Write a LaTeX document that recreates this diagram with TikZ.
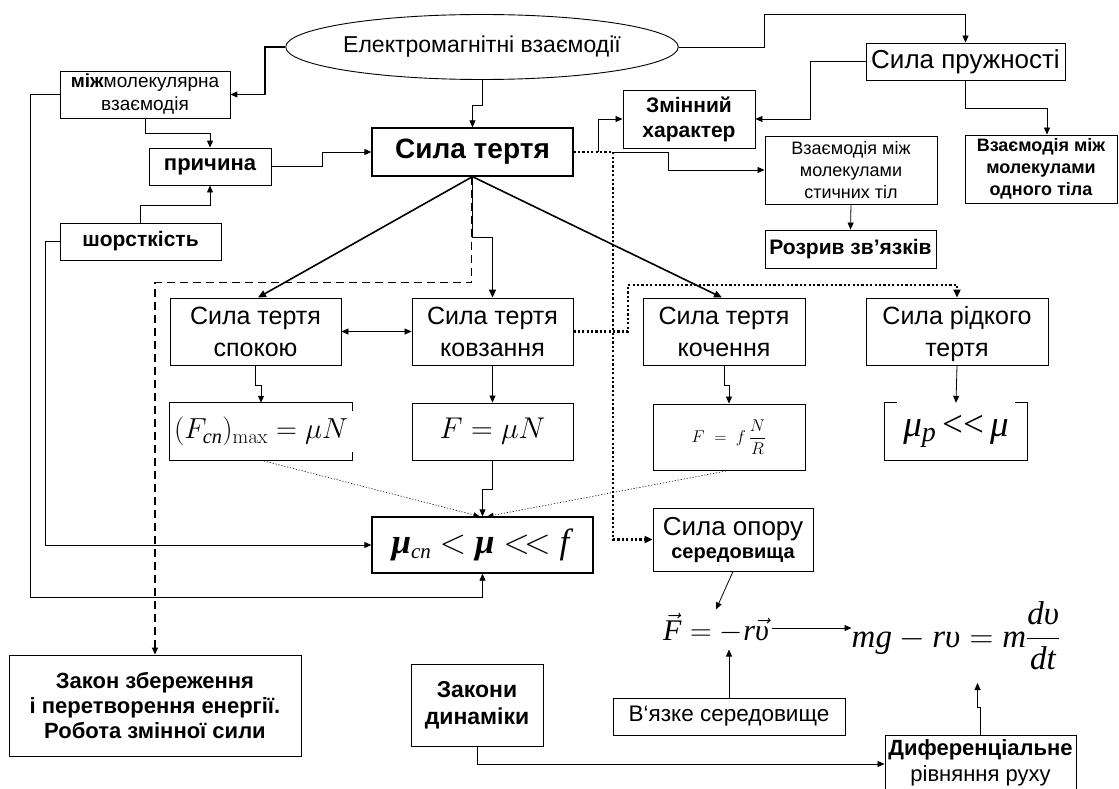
\RequirePackage{fix-cm}
\documentclass[tikz,border=0pt]{standalone}
\usepackage{amsmath}
\usepackage[no-math]{fontspec}
\setmainfont{Liberation Sans}
\newfontfamily\tnr{Liberation Serif}
\usetikzlibrary{arrows.meta,shapes.geometric,calc}
\newcommand\fs[2]{\fontsize{#1}{#2}\selectfont}
\newcommand\ti[1]{\text{\textit{#1}}}

\begin{document}
\begin{tikzpicture}[x=1pt,y=-1pt,
  box/.style={draw, line width=0.9pt, align=center, inner sep=0pt},
  plain/.style={align=center, inner sep=0pt},
  link/.style={line width=0.8pt, -{Triangle[length=7pt,width=6pt]}},
  heavylink/.style={line width=1.6pt, -{Triangle[length=8pt,width=7pt]}},
  dashlink/.style={line width=1.6pt, dash pattern=on 8pt off 5pt, -{Triangle[length=7pt,width=6pt]}},
  dotlink/.style={line width=2.2pt, dash pattern=on 2.2pt off 2.2pt, -{Triangle[length=8pt,width=7pt]}},
  faintlink/.style={line width=0.6pt, dash pattern=on 1.2pt off 1.8pt, -{Triangle[length=6pt,width=5pt]}}]
\useasboundingbox (0,0) rectangle (1119,789);

% --- top level ---
\node[draw, ellipse, line width=0.9pt, inner sep=0pt, minimum width=363pt, minimum height=65pt, font=\fs{23}{26}] (em) at (482,47) {Електромагнітні взаємодії};
\node[box, minimum width=170pt, minimum height=47pt, font=\fs{19}{23}] (mol) at (145,94.5) {\textbf{між}молекулярна\\взаємодія};
\node[box, minimum width=122pt, minimum height=37pt, font=\bfseries\fs{22}{26}] (prich) at (210,166.5) {причина};
\node[box, minimum width=161pt, minimum height=37pt, font=\bfseries\fs{21}{25}] (shor) at (140.5,241.5) {шорсткість};
\node[box, line width=1.3pt, minimum width=201pt, minimum height=48pt, font=\bfseries\fs{28}{32}] (sila) at (472.5,152) {Сила тертя};
\node[box, minimum width=132pt, minimum height=58pt, font=\bfseries\fs{21}{25}] (zmin) at (689,119) {Змінний\\характер};
\node[box, minimum width=199pt, minimum height=37pt, font=\fs{26}{30}] (pruzh) at (965.5,61.5) {Сила пружності};
\node[box, minimum width=172pt, minimum height=68pt, font=\fs{18}{22}] (styk) at (851,170) {Взаємодія між\\молекулами\\стичних тіл};
\node[box, minimum width=152pt, minimum height=68pt, font=\bfseries\fs{18}{22}] (odn) at (1041,169) {Взаємодія між\\молекулами\\одного тіла};
\node[box, minimum width=171pt, minimum height=38pt, font=\bfseries\fs{21}{25}] (rozr) at (850.5,249) {Розрив зв'язків};

% --- kinds of friction ---
\node[box, minimum width=171pt, minimum height=67pt, font=\fs{25}{32}] (spok) at (255.5,331.5) {Сила тертя\\спокою};
\node[box, minimum width=161pt, minimum height=67pt, font=\fs{25}{32}] (kovz) at (492.5,331.5) {Сила тертя\\ковзання};
\node[box, minimum width=162pt, minimum height=67pt, font=\fs{25}{32}] (koch) at (724,331.5) {Сила тертя\\кочення};
\node[box, minimum width=182pt, minimum height=67pt, text depth=1pt, font=\fs{25}{32}] (ridk) at (957,331.5) {Сила рідкого\\тертя};

% --- formulas ---
\node[plain, minimum width=182pt, minimum height=57pt, font=\fs{29}{32}] (fsp) at (261,431.5) {$(F_{\text{\tnr\itshape сп}})_{\max} = \mu N$};
\draw[line width=0.9pt] ($(fsp.north east)+(0,8)$) -- (fsp.north east) -- (fsp.north west) -- (fsp.south west) -- (fsp.south east) -- ++(0,-8);
\node[box, minimum width=161pt, minimum height=57pt, font=\fs{30}{32}] (fmu) at (492.5,431.5) {$F = \mu N$};
\node[box, minimum width=152pt, minimum height=66pt, font=\fs{17}{19}] (ffr) at (729,437) {$F\;=\;f\,\dfrac{N}{R}$};
\node[plain, minimum width=142pt, minimum height=57pt, font=\tnr\fs{37}{40}] (mup) at (956,431.5) {\textit{μ}\raisebox{-0.3ex}{\fs{28}{28}\textit{p}}\,<<\,\textit{μ}};
\draw[line width=0.9pt] ($(mup.north west)+(12,0)$) -| (mup.south west) -- (mup.south east) |- ($(mup.north east)+(-12,0)$);
\node[box, line width=1.3pt, minimum width=221pt, minimum height=56pt, font=\tnr\fs{35}{38}] (ineq) at (482.5,545) {\textbf{\textit{μ}}\raisebox{-0.3ex}{\fs{21}{21}\textit{сп}} $<$ \textbf{\textit{μ}} $<\!<$ \textit{f}};
\node[box, minimum width=160pt, minimum height=63pt, font=\fs{26}{27}] (opor) at (733,539.5) {Сила опору\\[-4pt]{\bfseries\fs{20}{22}середовища}};

% --- lower part ---
\node[box, minimum width=292pt, minimum height=101pt, font=\bfseries\fs{22}{25}] (zakon) at (155,705.5) {Закон збереження\\і перетворення енергії.\\Робота змінної сили};
\node[box, minimum width=132pt, minimum height=82pt, font=\bfseries\fs{23}{27}] (dyn) at (477,705) {Закони\\динаміки};
\node[plain, inner sep=3pt, font=\tnr\fs{30}{32}] (fvec) at (716,628) {$\vec{\ti{F}} = -\ti{r}\vec{\ti{υ}}$};
\node[plain, font=\tnr\fs{33}{36}] (fmg) at (956,636) {$\ti{mg}-\ti{rυ}=\ti{m}\dfrac{\ti{dυ}}{\ti{dt}}$};
\node[box, minimum width=232pt, minimum height=37pt, font=\fs{22.5}{25}] (vyaz) at (729,716.5) {В‘язке середовище};
\node[box, anchor=north, minimum width=191pt, text height=46pt, text depth=22pt, font=\fs{22}{26}] (dyf) at (980.5,735) {\textbf{Диференціальне}\\рівняння руху};

% --- connectors: top ---
\draw[link, line width=1.2pt] (em.west) -- (265,47) |- (mol.east);
\draw[link] (em.south) -- ++(0,25) -| (sila.north);
\draw[link] (em.east) -| (764,14) -| (pruzh.north);
\draw[link] (mol.south) |- (210,133) -- (prich.north);
\draw[link] (shor.north) |- (210,205) -- (prich.south);
\draw[link] (prich.east) -- (322,166.5) |- (sila.west);
\draw[link] (pruzh.west) -| (810,119) -- (zmin.east);
\draw[link] (pruzh.south) |- (1047,108) -- ($(odn.north)+(6,0)$);
\coordinate (j1) at (598,152);
\coordinate (j2) at (613,152);
\draw[link] (j1) |- (zmin.west);
\draw[link] (j2) -- (668,152) |- (styk.west);
\draw[link] (styk.south) -- (rozr.north);

% --- connectors: kinds of friction ---
\draw[heavylink] (sila.south) -- ($(spok.north)+(2.5,0)$);
\draw[heavylink] (sila.south) -- ++(0,61) -| (kovz.north);
\draw[heavylink] (sila.south) -- ($(koch.north)+(-2,0)$);
\draw[dashlink] ($(sila.south)+(-1,0)$) -- ++(0,106) -| (zakon.north);
\draw[dotlink] (sila.east) -- (j2) |- (opor.west);
\draw[dotlink] (kovz.east) -- (628,331.5) |- (957,285) -- (ridk.north);
\draw[link, {Triangle[length=7pt,width=6pt]}-{Triangle[length=7pt,width=6pt]}] (spok.east) -- (kovz.west);

\draw[link] (spok.south) -- ++(0,20) -| (fsp.north);
\draw[link] (kovz.south) -- (fmu.north);
\draw[link] (koch.south) -- ++(0,20) -| (ffr.north);
\draw[link] (ridk.south) -- (mup.north);

\draw[link] (fmu.south) -- ++(0,29) -| (ineq.north);
\draw[faintlink] (fsp.south) -- ($(ineq.north)+(-3,0)$);
\draw[faintlink] (ffr.south) -- ($(ineq.north)+(5,0)$);
\draw[link] (shor.west) -- (45,241.5) |- (ineq.west);
\draw[link] (mol.west) -| (30,597) -| (ineq.south);

% --- connectors: lower part ---
\draw[link] (opor.south) -- (fvec.north);
\draw[link] (fvec.east) -- (fvec.east -| fmg.west);
\draw[link] (vyaz.north) -- ++(0,-48);
\draw[link] (dyn.south) |- ($(dyf.north west)+(0,29)$);
\draw[link] (dyf.north) -- ++(0,-28) -- ++(-3,0) -- ++(0,-24);
\end{tikzpicture}
\end{document}
